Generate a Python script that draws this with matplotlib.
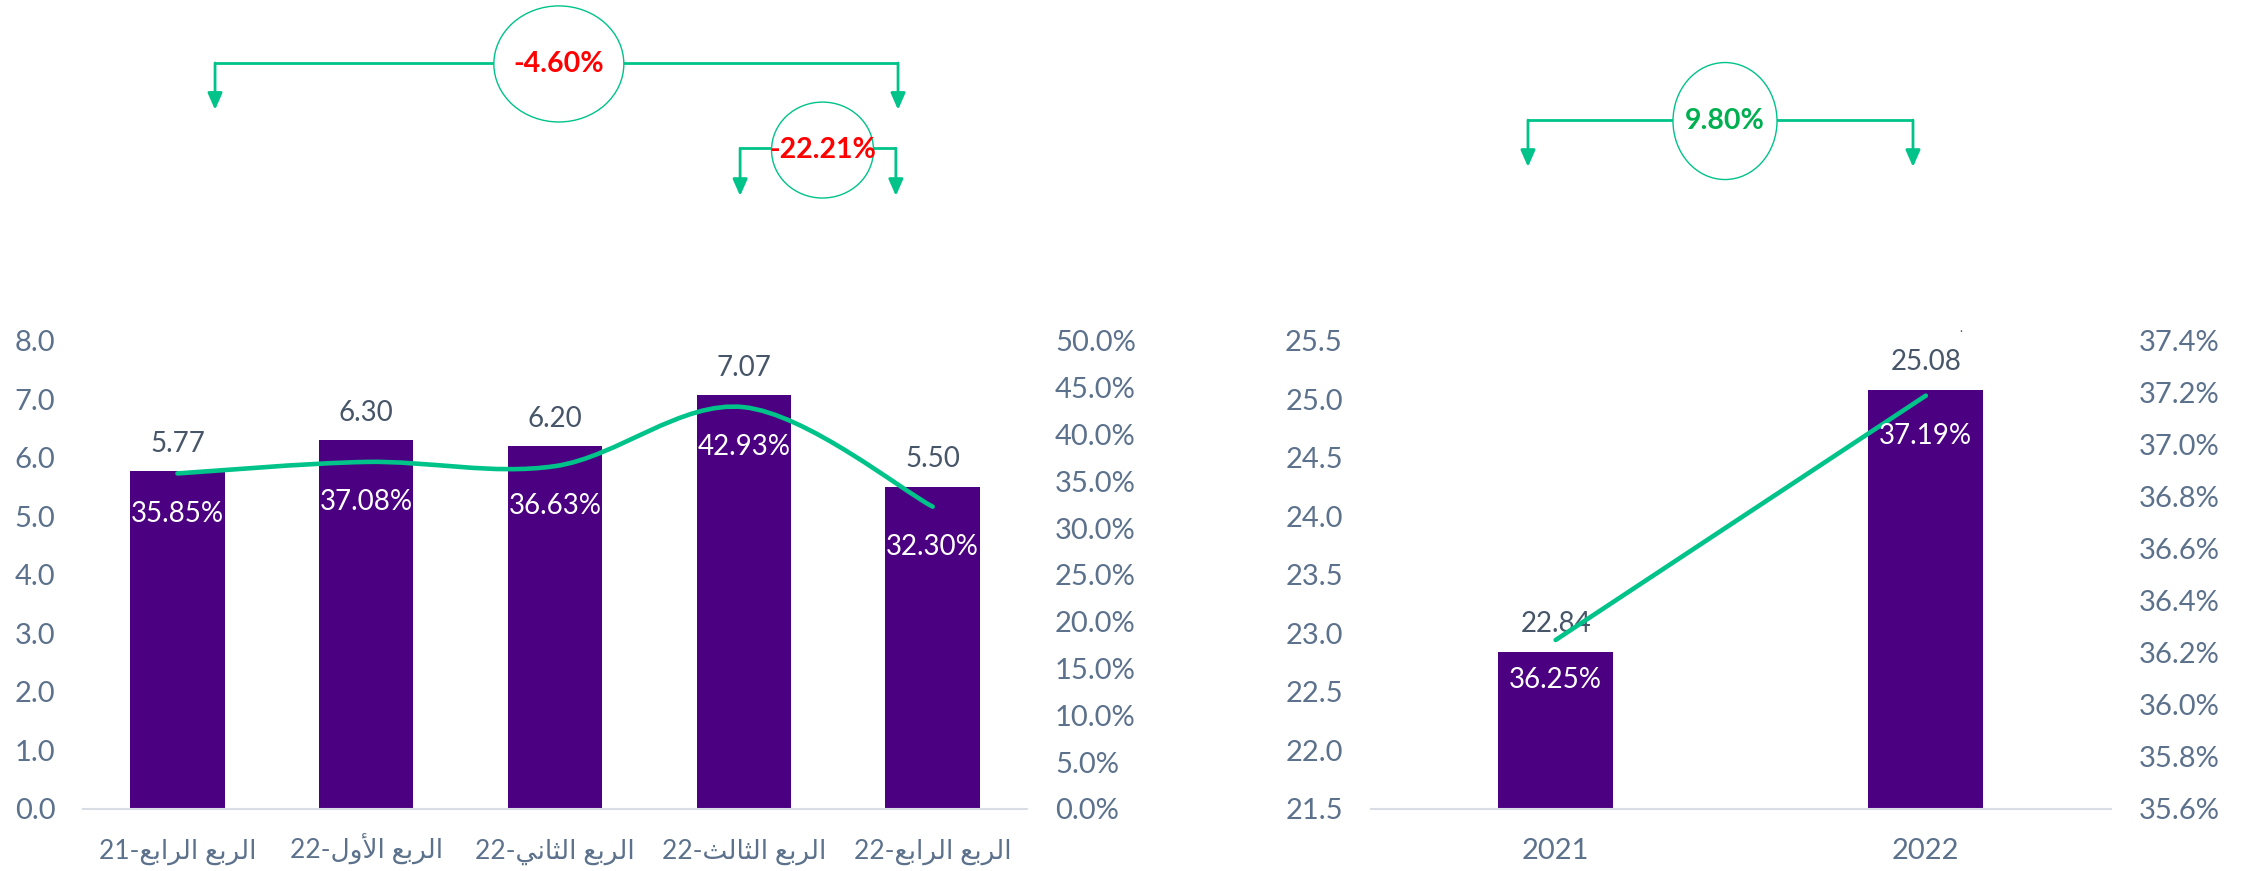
import matplotlib.pyplot as plt
from matplotlib.path import Path
from matplotlib.patches import PathPatch, Ellipse
from matplotlib.lines import Line2D
import numpy as np

# quarterly data (left chart)
quarters = ['الربع الرابع-21', 'الربع الأول-22', 'الربع الثاني-22', 'الربع الثالث-22', 'الربع الرابع-22']
q_values = [5.77, 6.30, 6.20, 7.07, 5.50]
q_pct = [35.85, 37.08, 36.63, 42.93, 32.30]

# yearly data (right chart)
years = ['2021', '2022']
y_values = [22.84, 25.08]
y_pct = [36.25, 37.19]

# change badges
q_change_long = '-4.60%'
q_change_short = '-22.21%'
y_change = '9.80%'

PURPLE = '#4B0082'
GREEN = '#00C389'
TICK = '#5C718C'
LABEL = '#475569'
FONT = ['Lato', 'DejaVu Sans']

# arabic presentation forms: isolated, final, initial, medial
FORMS = {
    'ا': ('\ufe8d', '\ufe8e', None, None),
    'أ': ('\ufe83', '\ufe84', None, None),
    'ل': ('\ufedd', '\ufede', '\ufedf', '\ufee0'),
    'ر': ('\ufead', '\ufeae', None, None),
    'ب': ('\ufe8f', '\ufe90', '\ufe91', '\ufe92'),
    'ع': ('\ufec9', '\ufeca', '\ufecb', '\ufecc'),
    'و': ('\ufeed', '\ufeee', None, None),
    'ث': ('\ufe99', '\ufe9a', '\ufe9b', '\ufe9c'),
    'ن': ('\ufee5', '\ufee6', '\ufee7', '\ufee8'),
    'ي': ('\ufef1', '\ufef2', '\ufef3', '\ufef4'),
}
LAM_ALEF = {'ا': ('\ufefb', '\ufefc'), 'أ': ('\ufef7', '\ufef8')}


def shape_word(word):
    items = []
    i = 0
    while i < len(word):
        if word[i] == 'ل' and i + 1 < len(word) and word[i + 1] in LAM_ALEF:
            items.append(('LA', word[i + 1]))
            i += 2
        else:
            items.append(('C', word[i]))
            i += 1
    out = []
    for k, (kind, c) in enumerate(items):
        prev_joins = k > 0 and items[k - 1][0] == 'C' and FORMS[items[k - 1][1]][2] is not None
        if kind == 'LA':
            out.append(LAM_ALEF[c][1 if prev_joins else 0])
            continue
        iso, fin, ini, med = FORMS[c]
        can_left = ini is not None and k + 1 < len(items)
        if prev_joins and can_left:
            out.append(med)
        elif prev_joins:
            out.append(fin)
        elif can_left:
            out.append(ini)
        else:
            out.append(iso)
    return ''.join(reversed(out))


def visual(label):
    # matplotlib has no bidi, so build the visual (left to right) order by hand
    ar, num = label.rsplit('-', 1)
    return num + '-' + ' '.join(shape_word(w) for w in reversed(ar.split()))


def smooth_path(xs, ys):
    pts = list(zip(xs, ys))
    verts = [pts[0]]
    codes = [Path.MOVETO]
    for i in range(len(pts) - 1):
        p0 = pts[i - 1] if i > 0 else pts[i]
        p1, p2 = pts[i], pts[i + 1]
        p3 = pts[i + 2] if i + 2 < len(pts) else pts[i + 1]
        c1 = (p1[0] + (p2[0] - p0[0]) / 6, p1[1] + (p2[1] - p0[1]) / 6)
        c2 = (p2[0] - (p3[0] - p1[0]) / 6, p2[1] - (p3[1] - p1[1]) / 6)
        verts += [c1, c2, p2]
        codes += [Path.CURVE4] * 3
    return Path(verts, codes)


def style_axes(ax, ax2, xsize):
    for a in (ax, ax2):
        for s in ('top', 'left', 'right', 'bottom'):
            a.spines[s].set_visible(False)
        a.tick_params(length=0, pad=20, labelsize=21, labelcolor=TICK)
    ax.spines['bottom'].set_visible(True)
    ax.spines['bottom'].set_color('#D9DEE5')
    ax.spines['bottom'].set_linewidth(1.5)
    ax.tick_params(axis='x', pad=36, labelsize=xsize)
    plt.setp(ax.get_xticklabels(), va='baseline')


def bracket(ax, x0, x1, y_line, y_tip, center, size, text, color):
    ax.add_line(Line2D([x0, x1], [y_line, y_line], transform=ax.transAxes,
                       color=GREEN, lw=2, clip_on=False, solid_capstyle='butt'))
    for x in (x0, x1):
        ax.annotate('', xy=(x, y_tip), xytext=(x, y_line), xycoords='axes fraction',
                    textcoords='axes fraction', annotation_clip=False,
                    arrowprops=dict(arrowstyle='-|>,head_length=0.5,head_width=0.22',
                                    color=GREEN, lw=2, mutation_scale=20,
                                    shrinkA=0, shrinkB=0))
    ax.add_patch(Ellipse(center, size[0], size[1], transform=ax.transAxes,
                         facecolor='white', edgecolor=GREEN, lw=1, clip_on=False, zorder=5))
    ax.text(center[0], center[1], text, transform=ax.transAxes, ha='center', va='center',
            fontsize=20.5, fontweight='bold', color=color, family=FONT, zorder=6)


def main():
    plt.rcParams['font.family'] = FONT
    fig = plt.figure(figsize=(22.45, 8.71), dpi=100)

    # left chart: quarters
    ax = fig.add_axes([0.0370, 0.0712, 0.4205, 0.5373])
    ax2 = ax.twinx()
    x = np.arange(len(quarters))
    bars = ax.bar(x, q_values, width=0.5, color=PURPLE)
    ax.set_xlim(-0.5, len(quarters) - 0.5)
    ax.set_ylim(0, 8)
    ax.set_yticks(np.arange(0, 8.01, 1.0))
    ax.set_yticklabels([f'{v:.1f}' for v in np.arange(0, 8.01, 1.0)])
    ax.set_xticks(x)
    ax.set_xticklabels([visual(q) for q in quarters])
    ax2.set_ylim(0, 50)
    ax2.set_yticks(np.arange(0, 50.01, 5))
    ax2.set_yticklabels([f'{v:.1f}%' for v in np.arange(0, 50.01, 5)])
    style_axes(ax, ax2, 19)
    ax2.add_patch(PathPatch(smooth_path(x, q_pct), facecolor='none', edgecolor=GREEN,
                            lw=3.3, capstyle='round'))
    for b, v in zip(bars, q_values):
        ax.annotate(f'{v:.2f}', (b.get_x() + b.get_width() / 2, v), xytext=(0, 20),
                    textcoords='offset points', ha='center', va='center',
                    fontsize=20, color=LABEL)
    for xi, p in zip(x, q_pct):
        ax2.annotate(f'{p:.2f}%', (xi, p), xytext=(0, -29), textcoords='offset points',
                     ha='center', va='center', fontsize=20, color='white')
    bracket(ax, 0.1398, 0.8633, 1.594, 1.494, (0.504, 1.592), (0.1377, 0.248),
            q_change_long, '#FF0000')
    bracket(ax, 0.696, 0.861, 1.412, 1.310, (0.7833, 1.408), (0.108, 0.205),
            q_change_short, '#FF0000')

    # right chart: years
    bx = fig.add_axes([0.6105, 0.0712, 0.3298, 0.5373])
    bx2 = bx.twinx()
    xy = np.arange(len(years))
    ybars = bx.bar(xy, y_values, width=0.31, color=PURPLE)
    bx.set_xlim(-0.5, len(years) - 0.5)
    bx.set_ylim(21.5, 25.5)
    lt = np.arange(21.5, 25.51, 0.5)
    bx.set_yticks(lt)
    bx.set_yticklabels([f'{v:.1f}' for v in lt])
    bx.set_xticks(xy)
    bx.set_xticklabels(years)
    bx2.set_ylim(35.6, 37.4)
    rt = np.arange(35.6, 37.41, 0.2)
    bx2.set_yticks(rt)
    bx2.set_yticklabels([f'{v:.1f}%' for v in rt])
    style_axes(bx, bx2, 21)
    bx2.plot(xy, y_pct, color=GREEN, lw=3.3, solid_capstyle='round')
    for b, v in zip(ybars, y_values):
        bx.annotate(f'{v:.2f}', (b.get_x() + b.get_width() / 2, v), xytext=(0, 20),
                    textcoords='offset points', ha='center', va='center',
                    fontsize=20, color=LABEL)
    for xi, p in zip(xy, y_pct):
        bx2.annotate(f'{p:.2f}%', (xi, p), xytext=(0, -29), textcoords='offset points',
                     ha='center', va='center', fontsize=20, color='white')
    bx.text(0.797, 1.016, '.', transform=bx.transAxes, fontsize=9, color=LABEL,
            ha='center', va='bottom')
    bracket(bx, 0.2126, 0.7326, 1.472, 1.372, (0.4787, 1.470), (0.1405, 0.25),
            y_change, '#00B050')

    fig.savefig('out.png', dpi=100)


if __name__ == "__main__":
    main()
